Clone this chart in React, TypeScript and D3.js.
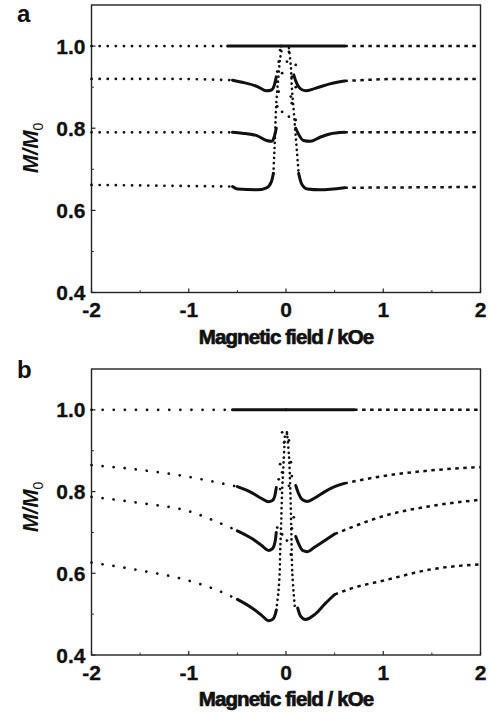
import React from "react";
import * as d3 from "d3";

type Pt = [number, number];

// ---- tick values ----
const xTicks = [-2, -1, 0, 1, 2];
const xMinor = [-1.5, -0.5, 0.5, 1.5];
const yTicks = [0.4, 0.6, 0.8, 1.0];
const yMinor = [0.5, 0.7, 0.9];

// ---- panel a series (left branch / right branch) ----
const a1Left: Pt[] = [[-2, 1.0], [-0.6, 1.0], [-0.05, 1.0]];
const a1Right: Pt[] = [[-0.05, 1.0], [0.6, 1.0], [2, 1.0]];
const a2Left: Pt[] = [[-2, 0.92], [-1.2, 0.92], [-0.55, 0.917], [-0.45, 0.912], [-0.3, 0.902], [-0.2, 0.891], [-0.15, 0.893], [-0.12, 0.905], [-0.1, 0.925]];
const a2Right: Pt[] = [[0.08, 0.93], [0.1, 0.915], [0.14, 0.898], [0.2, 0.891], [0.3, 0.897], [0.45, 0.908], [0.6, 0.915], [1.2, 0.92], [2, 0.92]];
const a3Left: Pt[] = [[-2, 0.79], [-0.55, 0.79], [-0.45, 0.788], [-0.3, 0.782], [-0.2, 0.77], [-0.15, 0.768], [-0.12, 0.78], [-0.1, 0.8]];
const a3Right: Pt[] = [[0.1, 0.8], [0.13, 0.785], [0.18, 0.77], [0.25, 0.768], [0.35, 0.778], [0.45, 0.786], [0.6, 0.79], [2, 0.79]];
const a4Left: Pt[] = [[-2, 0.662], [-0.55, 0.658], [-0.5, 0.652], [-0.3, 0.65], [-0.2, 0.655], [-0.15, 0.67], [-0.13, 0.69]];
const a4Right: Pt[] = [[0.13, 0.69], [0.16, 0.665], [0.22, 0.652], [0.35, 0.65], [0.6, 0.655], [2, 0.657]];
const aPeakLeft: Pt[] = [[-0.13, 0.69], [-0.12, 0.74], [-0.11, 0.8], [-0.1, 0.86], [-0.08, 0.92], [-0.06, 0.97], [-0.04, 0.995]];
const aPeakRight: Pt[] = [[0.03, 0.995], [0.05, 0.95], [0.06, 0.9], [0.08, 0.84], [0.1, 0.78], [0.12, 0.72], [0.13, 0.69]];
const aScatter: Pt[] = [
  [-0.06, 0.99], [0.03, 0.986], [-0.075, 0.962], [0.01, 0.962], [0.1, 0.954], [-0.09, 0.938], [-0.04, 0.934],
  [0.06, 0.925], [-0.1, 0.913], [0.1, 0.9], [-0.075, 0.889], [0.05, 0.877], [-0.09, 0.853], [0.06, 0.861],
  [-0.04, 0.84], [0.03, 0.828], [0.1, 0.82],
];

// ---- panel b series ----
const b1Left: Pt[] = [[-2, 1.0], [-0.55, 1.0], [0, 1.0]];
const b1Right: Pt[] = [[0, 1.0], [0.7, 1.0], [2, 1.0]];
const b2Left: Pt[] = [[-2, 0.865], [-1.5, 0.853], [-1, 0.836], [-0.7, 0.822], [-0.5, 0.812], [-0.35, 0.797], [-0.25, 0.783], [-0.18, 0.775], [-0.14, 0.778], [-0.11, 0.795], [-0.1, 0.81]];
const b2Right: Pt[] = [[0.1, 0.815], [0.13, 0.795], [0.17, 0.78], [0.22, 0.776], [0.3, 0.785], [0.4, 0.8], [0.5, 0.812], [0.6, 0.82], [1, 0.838], [1.5, 0.852], [2, 0.86]];
const b3Left: Pt[] = [[-2, 0.787], [-1.5, 0.772], [-1, 0.752], [-0.7, 0.725], [-0.5, 0.704], [-0.35, 0.685], [-0.25, 0.668], [-0.18, 0.656], [-0.14, 0.66], [-0.11, 0.68], [-0.1, 0.7]];
const b3Right: Pt[] = [[0.1, 0.69], [0.13, 0.672], [0.17, 0.656], [0.22, 0.653], [0.3, 0.665], [0.4, 0.68], [0.5, 0.696], [0.7, 0.715], [1, 0.74], [1.5, 0.765], [2, 0.78]];
const b4Left: Pt[] = [[-2, 0.626], [-1.5, 0.607], [-1, 0.582], [-0.7, 0.558], [-0.5, 0.536], [-0.35, 0.515], [-0.25, 0.497], [-0.18, 0.484], [-0.14, 0.487], [-0.11, 0.5], [-0.1, 0.51]];
const b4Right: Pt[] = [[0.12, 0.515], [0.15, 0.495], [0.2, 0.487], [0.3, 0.5], [0.4, 0.525], [0.5, 0.548], [0.7, 0.565], [1, 0.582], [1.5, 0.61], [2, 0.622]];
const bPeakLeft: Pt[] = [[-0.1, 0.51], [-0.08, 0.55], [-0.065, 0.6], [-0.06, 0.65], [-0.05, 0.72], [-0.04, 0.8], [-0.025, 0.87], [-0.01, 0.945]];
const bPeakRight: Pt[] = [[0.01, 0.945], [0.03, 0.89], [0.045, 0.8], [0.055, 0.7], [0.065, 0.6], [0.09, 0.52]];
const bScatter: Pt[] = [
  [-0.04, 0.945], [0.01, 0.941], [-0.02, 0.92], [0.03, 0.925], [-0.06, 0.867], [-0.04, 0.847], [-0.075, 0.83],
  [0.05, 0.872], [0.06, 0.838], [0.03, 0.814], [-0.06, 0.806], [-0.09, 0.712], [-0.04, 0.695], [0.01, 0.68],
  [0.08, 0.737], [0.05, 0.646], [0.06, 0.71],
];

const W = 490;
const H = 713;
const FONT = "'Liberation Sans', Arial, Helvetica, sans-serif";

interface PanelDef {
  letter: string;
  top: number;
  bottom: number;
  left: number;
  right: number;
  letterY: number;
  yLabelY: number;
  dotGap: number;
  curves: { left: Pt[]; right: Pt[]; solidFrom: number; solidTo: number }[];
  peaks: Pt[][];
  scatter: Pt[];
}

const panels: PanelDef[] = [
  {
    letter: "a", top: 5, bottom: 292.5, left: 91.5, right: 480.5, letterY: 22, yLabelY: 148, dotGap: 8,
    curves: [
      { left: a1Left, right: a1Right, solidFrom: -0.6, solidTo: 0.6 },
      { left: a2Left, right: a2Right, solidFrom: -0.55, solidTo: 0.6 },
      { left: a3Left, right: a3Right, solidFrom: -0.55, solidTo: 0.6 },
      { left: a4Left, right: a4Right, solidFrom: -0.55, solidTo: 0.6 },
    ],
    peaks: [aPeakLeft, aPeakRight],
    scatter: aScatter,
  },
  {
    letter: "b", top: 369, bottom: 655, left: 91.5, right: 480.5, letterY: 378, yLabelY: 507, dotGap: 11,
    curves: [
      { left: b1Left, right: b1Right, solidFrom: -0.55, solidTo: 0.7 },
      { left: b2Left, right: b2Right, solidFrom: -0.5, solidTo: 0.6 },
      { left: b3Left, right: b3Right, solidFrom: -0.5, solidTo: 0.5 },
      { left: b4Left, right: b4Right, solidFrom: -0.5, solidTo: 0.5 },
    ],
    peaks: [bPeakLeft, bPeakRight],
    scatter: bScatter,
  },
];

function Panel({ p }: { p: PanelDef }) {
  const x = d3.scaleLinear().domain([-2, 2]).range([p.left, p.right]);
  const y = d3.scaleLinear().domain([0.4, 1.1]).range([p.bottom, p.top]);
  const line = d3
    .line<Pt>()
    .x((d) => x(d[0]))
    .y((d) => y(d[1]))
    .curve(d3.curveMonotoneX);
  const peakLine = d3
    .line<Pt>()
    .x((d) => x(d[0]))
    .y((d) => y(d[1]))
    .curve(d3.curveCatmullRom);

  const seg = (pts: Pt[], lo: number, hi: number) => pts.filter((d) => d[0] >= lo - 1e-9 && d[0] <= hi + 1e-9);

  return (
    <g>
      {/* frame */}
      <rect x={p.left} y={p.top} width={p.right - p.left} height={p.bottom - p.top} fill="none" stroke="#222" strokeWidth={1.4} />
      {/* ticks */}
      {xTicks.map((t) => (
        <line key={"xt" + t} x1={x(t)} x2={x(t)} y1={p.bottom} y2={p.bottom - 4} stroke="#222" strokeWidth={1.2} />
      ))}
      {xMinor.map((t) => (
        <line key={"xm" + t} x1={x(t)} x2={x(t)} y1={p.bottom} y2={p.bottom - 2.5} stroke="#333" strokeWidth={1} />
      ))}
      {yTicks.map((t) => (
        <line key={"yt" + t} x1={p.left} x2={p.left + 4} y1={y(t)} y2={y(t)} stroke="#222" strokeWidth={1.2} />
      ))}
      {yMinor.map((t) => (
        <line key={"ym" + t} x1={p.left} x2={p.left + 2.5} y1={y(t)} y2={y(t)} stroke="#333" strokeWidth={1} />
      ))}
      {/* tick labels */}
      {xTicks.map((t) => (
        <text key={"xl" + t} x={x(t)} y={p.bottom + 24.5} textAnchor="middle" fontFamily={FONT} fontWeight="bold" fontSize={21} fill="#111" stroke="#111" strokeWidth={0.3}>
          {t < 0 ? "-" + Math.abs(t) : String(t)}
        </text>
      ))}
      {yTicks.map((t) => (
        <text key={"yl" + t} x={p.left - 6} y={y(t) + 7.5} textAnchor="end" fontFamily={FONT} fontWeight="bold" fontSize={21} fill="#111" stroke="#111" strokeWidth={0.3}>
          {t.toFixed(1)}
        </text>
      ))}
      {/* axis titles */}
      <text x={286} y={p.bottom + 51} textAnchor="middle" fontFamily={FONT} fontWeight="bold" fontSize={20.5} letterSpacing={-0.9} fill="#111" stroke="#111" strokeWidth={0.7}>
        Magnetic field / kOe
      </text>
      <text transform={`translate(38,${p.yLabelY}) rotate(-90)`} textAnchor="middle" fontFamily={FONT} fontStyle="italic" fontWeight="bold" fontSize={22} fill="#111">
        M/M<tspan fontSize={14} dy={5} fontStyle="normal" fontWeight="normal">0</tspan>
      </text>
      <text x={17} y={p.letterY} fontFamily={FONT} fontWeight="bold" fontSize={24} fill="#111">
        {p.letter}
      </text>
      {/* curves */}
      {p.curves.map((c, i) => (
        <g key={"c" + i} fill="none" stroke="#111" strokeLinecap="round">
          <path d={line(seg(c.left, -2, c.solidFrom)) || ""} strokeWidth={2.7} strokeDasharray={`0.1,${p.dotGap}`} />
          <path d={line(seg(c.left, c.solidFrom, 0.2)) || ""} strokeWidth={3} />
          <path d={line(seg(c.right, -0.2, c.solidTo)) || ""} strokeWidth={3} />
          <path d={line(seg(c.right, c.solidTo, 2)) || ""} strokeWidth={2.5} strokeDasharray="3.5,4.5" strokeLinecap="butt" />
        </g>
      ))}
      {p.peaks.map((pk, i) => (
        <path key={"pk" + i} d={peakLine(pk) || ""} fill="none" stroke="#111" strokeWidth={2.6} strokeLinecap="round" strokeDasharray="0.1,5" />
      ))}
      {p.scatter.map((d, i) => (
        <circle key={"s" + i} cx={x(d[0])} cy={y(d[1])} r={1.4} fill="#111" />
      ))}
    </g>
  );
}

export default function App() {
  return (
    <svg width={W} height={H} viewBox={`0 0 ${W} ${H}`} style={{ position: "absolute", left: 0, top: 0, background: "#fff" }}>
      <rect x={0} y={0} width={W} height={H} fill="#fff" />
      {panels.map((p) => (
        <Panel key={p.letter} p={p} />
      ))}
    </svg>
  );
}
